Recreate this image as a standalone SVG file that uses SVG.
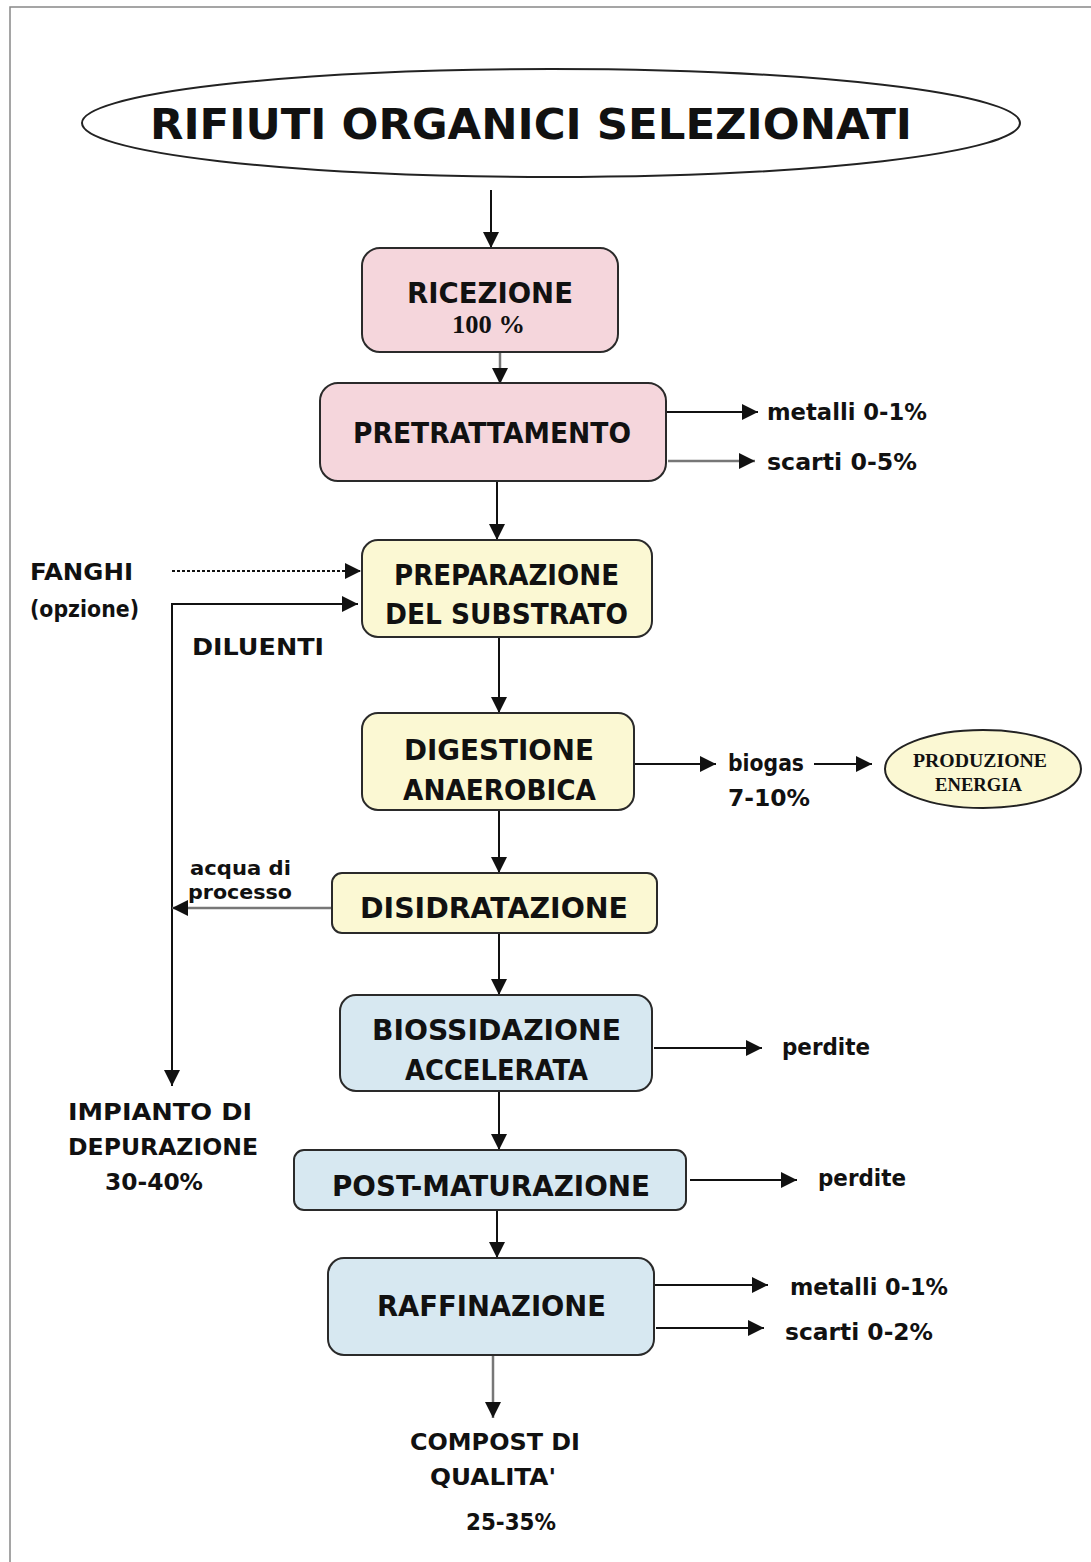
<svg xmlns="http://www.w3.org/2000/svg" width="1091" height="1562" viewBox="0 0 1091 1562">
<defs>
<style>
.t{font-family:"DejaVu Sans","Liberation Sans",sans-serif;font-weight:bold;fill:#111}
.big{font-size:42px}
.lb{font-size:28px}
.sm{font-size:23px}
.xs{font-size:20px}
.sf{font-family:"Liberation Serif","DejaVu Serif",serif;font-weight:bold;fill:#111}
.box{stroke:#2a2a2a;stroke-width:2}
.pink{fill:#f5d6dc}
.yel{fill:#fbf8d3}
.blu{fill:#d7e8f1}
.c{stroke:#111;stroke-width:2;fill:none}
.g{stroke:#777;stroke-width:2.5;fill:none}
</style>
<marker id="ah" viewBox="0 0 10 10" refX="10" refY="5" markerWidth="18" markerHeight="16" markerUnits="userSpaceOnUse" orient="auto">
<path d="M0,0 L10,5 L0,10 z" fill="#111"/>
</marker>
</defs>
<rect width="1091" height="1562" fill="#fff"/>
<path d="M10,1562 L10,7 L1091,7" fill="none" stroke="#888" stroke-width="1.5"/>

<g id="connectors">
<line class="c" x1="491" y1="190" x2="491" y2="248" marker-end="url(#ah)" stroke-width="1.2"/>
<line class="g" x1="500" y1="335" x2="500" y2="384" marker-end="url(#ah)"/>
<line class="c" x1="666" y1="412" x2="758" y2="412" marker-end="url(#ah)"/>
<line class="g" x1="668" y1="461" x2="755" y2="461" marker-end="url(#ah)"/>
<line class="c" x1="497" y1="481" x2="497" y2="540" marker-end="url(#ah)"/>
<line class="c" x1="172" y1="571" x2="361" y2="571" marker-end="url(#ah)" stroke-dasharray="3,2" stroke-width="1.5"/>
<polyline class="c" points="172,1086 172,604 358,604" marker-end="url(#ah)"/>
<line class="c" x1="172" y1="1070" x2="172" y2="1086" marker-end="url(#ah)"/>
<line class="c" x1="499" y1="637" x2="499" y2="713" marker-end="url(#ah)"/>
<line class="c" x1="634" y1="764" x2="716" y2="764" marker-end="url(#ah)"/>
<line class="c" x1="814" y1="764" x2="872" y2="764" marker-end="url(#ah)"/>
<line class="c" x1="499" y1="810" x2="499" y2="873" marker-end="url(#ah)"/>
<line class="g" x1="332" y1="908" x2="172" y2="908" marker-end="url(#ah)"/>
<line class="c" x1="499" y1="933" x2="499" y2="995" marker-end="url(#ah)"/>
<line class="c" x1="654" y1="1048" x2="762" y2="1048" marker-end="url(#ah)"/>
<line class="c" x1="499" y1="1091" x2="499" y2="1150" marker-end="url(#ah)"/>
<line class="c" x1="690" y1="1180" x2="797" y2="1180" marker-end="url(#ah)" stroke="#999" stroke-width="1"/>
<line class="c" x1="497" y1="1210" x2="497" y2="1258" marker-end="url(#ah)"/>
<line class="c" x1="654" y1="1285" x2="768" y2="1285" marker-end="url(#ah)"/>
<line class="c" x1="656" y1="1328" x2="764" y2="1328" marker-end="url(#ah)"/>
<line class="g" x1="493" y1="1355" x2="493" y2="1418" marker-end="url(#ah)"/>
</g>

<g id="n-rifiuti">
<ellipse cx="551" cy="123" rx="469" ry="54" fill="#fff" stroke="#222" stroke-width="2"/>
<text class="t big" x="150" y="139" textLength="762" lengthAdjust="spacingAndGlyphs">RIFIUTI ORGANICI SELEZIONATI</text>
</g>

<g id="n-ricezione">
<rect class="box pink" x="362" y="248" width="256" height="104" rx="18"/>
<text class="t lb" x="407" y="303" textLength="166" lengthAdjust="spacingAndGlyphs">RICEZIONE</text>
<text class="sf" x="452" y="333" font-size="25" textLength="73" lengthAdjust="spacingAndGlyphs">100 %</text>
</g>

<g id="n-pretrattamento">
<rect class="box pink" x="320" y="383" width="346" height="98" rx="18"/>
<text class="t lb" x="353" y="443" textLength="278" lengthAdjust="spacingAndGlyphs">PRETRATTAMENTO</text>
</g>
<g id="o-metalli1"><text class="t sm" x="767" y="420" textLength="160" lengthAdjust="spacingAndGlyphs">metalli 0-1%</text></g>
<g id="o-scarti1"><text class="t sm" x="767" y="470" textLength="150" lengthAdjust="spacingAndGlyphs">scarti 0-5%</text></g>

<g id="n-fanghi">
<text class="t sm" x="30" y="580" textLength="103" lengthAdjust="spacingAndGlyphs">FANGHI</text>
<text class="t sm" x="30" y="617" textLength="109" lengthAdjust="spacingAndGlyphs">(opzione)</text>
</g>
<g id="l-diluenti"><text class="t sm" x="192" y="655" textLength="132" lengthAdjust="spacingAndGlyphs">DILUENTI</text></g>

<g id="n-preparazione">
<rect class="box yel" x="362" y="540" width="290" height="97" rx="16"/>
<text class="t lb" x="394" y="585" textLength="225" lengthAdjust="spacingAndGlyphs">PREPARAZIONE</text>
<text class="t lb" x="385" y="624" textLength="243" lengthAdjust="spacingAndGlyphs">DEL SUBSTRATO</text>
</g>

<g id="n-digestione">
<rect class="box yel" x="362" y="713" width="272" height="97" rx="16"/>
<text class="t lb" x="404" y="760" textLength="190" lengthAdjust="spacingAndGlyphs">DIGESTIONE</text>
<text class="t lb" x="403" y="800" textLength="193" lengthAdjust="spacingAndGlyphs">ANAEROBICA</text>
</g>
<g id="o-biogas">
<text class="t sm" x="728" y="771" textLength="76" lengthAdjust="spacingAndGlyphs">biogas</text>
<text class="t sm" x="728" y="806" textLength="82" lengthAdjust="spacingAndGlyphs">7-10%</text>
</g>
<g id="n-energia">
<ellipse cx="983" cy="769" rx="98" ry="39" class="yel" stroke="#222" stroke-width="2"/>
<text class="sf" x="913" y="767" font-size="18" textLength="134" lengthAdjust="spacingAndGlyphs">PRODUZIONE</text>
<text class="sf" x="935" y="791" font-size="18" textLength="87" lengthAdjust="spacingAndGlyphs">ENERGIA</text>
</g>

<g id="n-disidratazione">
<rect class="box yel" x="332" y="873" width="325" height="60" rx="10"/>
<text class="t lb" x="360" y="918" textLength="268" lengthAdjust="spacingAndGlyphs">DISIDRATAZIONE</text>
</g>
<g id="l-acqua">
<text class="t xs" x="190" y="875" textLength="101" lengthAdjust="spacingAndGlyphs">acqua di</text>
<text class="t xs" x="188" y="899" textLength="104" lengthAdjust="spacingAndGlyphs">processo</text>
</g>

<g id="n-biossidazione">
<rect class="box blu" x="340" y="995" width="312" height="96" rx="16"/>
<text class="t lb" x="372" y="1040" textLength="249" lengthAdjust="spacingAndGlyphs">BIOSSIDAZIONE</text>
<text class="t lb" x="405" y="1080" textLength="183" lengthAdjust="spacingAndGlyphs">ACCELERATA</text>
</g>
<g id="o-perdite1"><text class="t sm" x="782" y="1055" textLength="88" lengthAdjust="spacingAndGlyphs">perdite</text></g>

<g id="n-impianto">
<text class="t sm" x="68" y="1120" textLength="184" lengthAdjust="spacingAndGlyphs">IMPIANTO DI</text>
<text class="t sm" x="68" y="1155" textLength="190" lengthAdjust="spacingAndGlyphs">DEPURAZIONE</text>
<text class="t sm" x="105" y="1190" textLength="98" lengthAdjust="spacingAndGlyphs">30-40%</text>
</g>

<g id="n-postmaturazione">
<rect class="box blu" x="294" y="1150" width="392" height="60" rx="10"/>
<text class="t lb" x="332" y="1196" textLength="318" lengthAdjust="spacingAndGlyphs">POST-MATURAZIONE</text>
</g>
<g id="o-perdite2"><text class="t sm" x="818" y="1186" textLength="88" lengthAdjust="spacingAndGlyphs">perdite</text></g>

<g id="n-raffinazione">
<rect class="box blu" x="328" y="1258" width="326" height="97" rx="16"/>
<text class="t lb" x="377" y="1316" textLength="229" lengthAdjust="spacingAndGlyphs">RAFFINAZIONE</text>
</g>
<g id="o-metalli2"><text class="t sm" x="790" y="1295" textLength="158" lengthAdjust="spacingAndGlyphs">metalli 0-1%</text></g>
<g id="o-scarti2"><text class="t sm" x="785" y="1340" textLength="148" lengthAdjust="spacingAndGlyphs">scarti 0-2%</text></g>

<g id="n-compost">
<text class="t sm" x="410" y="1450" textLength="170" lengthAdjust="spacingAndGlyphs">COMPOST DI</text>
<text class="t sm" x="430" y="1485" textLength="126" lengthAdjust="spacingAndGlyphs">QUALITA'</text>
<text class="t sm" x="466" y="1530" textLength="90" lengthAdjust="spacingAndGlyphs">25-35%</text>
</g>
</svg>
